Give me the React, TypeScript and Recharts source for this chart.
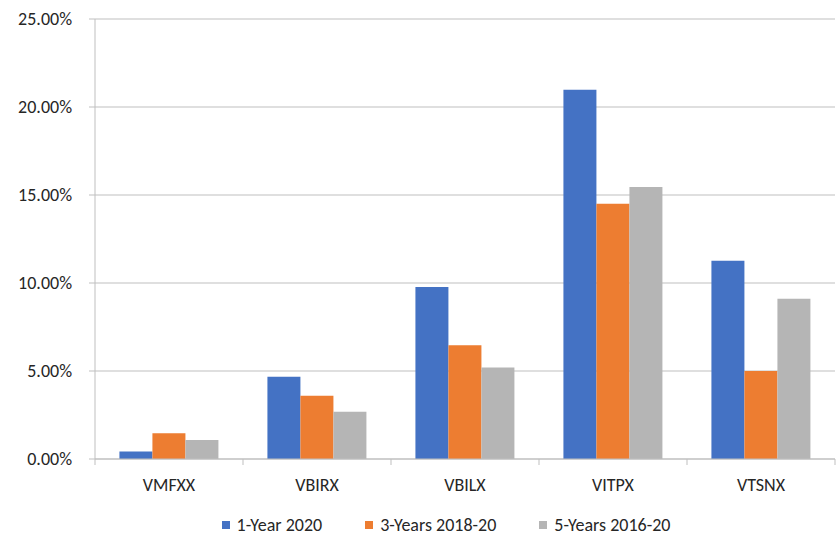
import { BarChart, Bar, XAxis, YAxis, CartesianGrid, Legend } from "recharts";

const funds = ["VMFXX", "VBIRX", "VBILX", "VITPX", "VTSNX"];
const oneYear = [0.42, 4.67, 9.77, 20.98, 11.27];
const threeYears = [1.46, 3.6, 6.47, 14.5, 5.0];
const fiveYears = [1.08, 2.68, 5.2, 15.45, 9.1];
const yTicks = [0, 5, 10, 15, 20, 25];

const data = funds.map((name, i) => ({
  name,
  oneYear: oneYear[i],
  threeYears: threeYears[i],
  fiveYears: fiveYears[i],
}));

const FONT = "Carlito, Calibri, Lato, sans-serif";
const TEXT = "#262626";
const LINE = "#bfbfbf";
const PLOT_LEFT = 95;
const PLOT_RIGHT = 835;
const BAND = (PLOT_RIGHT - PLOT_LEFT) / funds.length;

function CategoryTick(props: any) {
  const { x, y, payload, index } = props;
  const left = x - BAND / 2;
  const right = x + BAND / 2;
  return (
    <g>
      <line x1={left} x2={left} y1={y - 8} y2={y - 2} stroke={LINE} />
      {index === funds.length - 1 ? (
        <line x1={right} x2={right} y1={y - 8} y2={y - 2} stroke={LINE} />
      ) : null}
      <text
        x={x}
        y={y + 24}
        textAnchor="middle"
        fill={TEXT}
        fontSize={18}
        fontFamily={FONT}
      >
        {payload.value}
      </text>
    </g>
  );
}

function LegendContent(props: any) {
  const { payload } = props;
  return (
    <div
      style={{
        height: 29,
        boxSizing: "border-box",
        display: "flex",
        justifyContent: "center",
        alignItems: "flex-end",
        paddingLeft: 57,
        paddingBottom: 2,
        fontFamily: FONT,
        fontSize: 18,
        lineHeight: "22px",
        color: TEXT,
      }}
    >
      {(payload || []).map((item: any, i: number) => (
        <div
          key={item.value}
          style={{ display: "flex", alignItems: "center", marginLeft: i === 0 ? 0 : 43 }}
        >
          <span
            style={{ width: 8, height: 8, background: item.color, marginRight: 7, display: "inline-block" }}
          />
          <span>{item.value}</span>
        </div>
      ))}
    </div>
  );
}

export default function App() {
  return (
    <div style={{ position: "absolute", left: 0, top: 0, background: "#fff" }}>
      <BarChart
        width={838}
        height={538}
        data={data}
        margin={{ top: 19, right: 3, left: 0, bottom: 0 }}
        barCategoryGap="16.5%"
        barGap={0}
      >
        <CartesianGrid horizontal vertical={false} stroke={LINE} />
        <XAxis
          dataKey="name"
          height={50}
          axisLine={{ stroke: LINE }}
          tickLine={false}
          tick={<CategoryTick />}
          interval={0}
        />
        <YAxis
          width={95}
          domain={[0, 25]}
          ticks={yTicks}
          interval={0}
          axisLine={{ stroke: LINE }}
          tickLine={{ stroke: LINE }}
          tickSize={6}
          tickMargin={17}
          tickFormatter={(v: number) => `${v.toFixed(2)}%`}
          tick={{ fill: TEXT, fontSize: 18, fontFamily: FONT }}
        />
        <Legend verticalAlign="bottom" height={29} content={<LegendContent />} />
        <Bar dataKey="oneYear" name="1-Year 2020" fill="#4472C4" isAnimationActive={false} />
        <Bar dataKey="threeYears" name="3-Years 2018-20" fill="#ED7D31" isAnimationActive={false} />
        <Bar dataKey="fiveYears" name="5-Years 2016-20" fill="#B5B5B5" isAnimationActive={false} />
      </BarChart>
    </div>
  );
}
